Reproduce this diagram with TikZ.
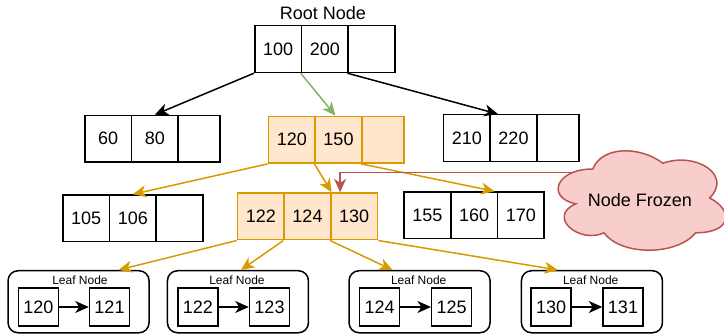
\documentclass[tikz,border=0pt]{standalone}
\usepackage{fontspec}
\setmainfont{Liberation Sans}
\usetikzlibrary{arrows.meta}
\definecolor{orstroke}{HTML}{D79B00}
\definecolor{orfill}{HTML}{FFE6CC}
\definecolor{grstroke}{HTML}{82B366}
\definecolor{rdstroke}{HTML}{B85450}
\definecolor{rdfill}{HTML}{F8CECC}
\tikzset{
  big/.style={font=\fontsize{18}{20}\selectfont},
  cell/.style={draw, fill=white, line width=1.5pt, minimum width=46.7pt,
    minimum height=46.7pt, inner sep=0pt, anchor=north west, big},
  narrow/.style={minimum width=42pt},
  hot/.style={draw=orstroke, fill=orfill},
  tip/.style={-{Stealth[length=13.5pt,width=12pt,inset=4pt]}},
  blk/.style={tip, line width=1.5pt, black},
  grn/.style={tip, line width=1.5pt, grstroke},
  org/.style={tip, line width=1.5pt, orstroke},
  redarr/.style={tip, line width=1.5pt, rdstroke},
  leafbox/.style={draw, line width=1.5pt, rounded corners=10pt, anchor=north west,
    minimum width=141pt, minimum height=62pt, inner sep=0pt},
  leaflabel/.style={font=\fontsize{12}{14}\selectfont, inner sep=0pt},
  kbox/.style={draw, fill=white, line width=1.5pt, minimum width=40pt,
    minimum height=38pt, inner sep=0pt, big},
}
\begin{document}
\begin{tikzpicture}[x=1pt, y=-1pt]
\useasboundingbox (0,0) rectangle (724,334);

% root
\node[big] (rootlbl) at (323,13) {Root Node};
\node[cell] (r1) at (254,25) {100};
\node[cell] (r2) at (300.7,25) {200};
\node[cell] (r3) at (347.4,25) {};

% second level
\node[cell] (a1) at (84,114.7) {60};
\node[cell] (a2) at (130.7,114.7) {80};
\node[cell, narrow] (a3) at (177.4,114.7) {};

\node[cell, hot] (m1) at (267.7,115.7) {120};
\node[cell, hot] (m2) at (314.4,115.7) {150};
\node[cell, hot, narrow] (m3) at (361.1,115.7) {};

\node[cell] (b1) at (442.7,114) {210};
\node[cell] (b2) at (489.4,114) {220};
\node[cell, narrow] (b3) at (536.1,114) {};

% third level
\node[cell] (c1) at (62,194.3) {105};
\node[cell] (c2) at (108.7,194.3) {106};
\node[cell] (c3) at (155.4,194.3) {};

\node[cell, hot] (d1) at (236.7,192.3) {122};
\node[cell, hot] (d2) at (283.4,192.3) {124};
\node[cell, hot] (d3) at (330.1,192.3) {130};

\node[cell] (e1) at (403.3,191.3) {155};
\node[cell] (e2) at (450,191.3) {160};
\node[cell] (e3) at (496.7,191.3) {170};

% leaf nodes
\node[leafbox] (l1) at (7.3,270) {};
\node[leafbox] (l2) at (166.7,270) {};
\node[leafbox] (l3) at (348.3,270) {};
\node[leafbox] (l4) at (520.7,270) {};

\node[leaflabel] (l1t) at (80,280) {Leaf Node};
\node[leaflabel] (l2t) at (237,280) {Leaf Node};
\node[leaflabel] (l3t) at (418.7,280) {Leaf Node};
\node[leaflabel] (l4t) at (590.7,280) {Leaf Node};

\node[kbox] (k1a) at (38.3,307) {120};
\node[kbox] (k1b) at (109.5,307) {121};
\node[kbox] (k2a) at (197.8,307) {122};
\node[kbox] (k2b) at (269.5,307) {123};
\node[kbox] (k3a) at (379.7,307) {124};
\node[kbox] (k3b) at (451.7,307) {125};
\node[kbox] (k4a) at (551.2,307) {130};
\node[kbox] (k4b) at (623,307) {131};

\draw[blk] (k1a) -- (k1b);
\draw[blk] (k2a) -- (k2b);
\draw[blk] (k3a) -- (k3b);
\draw[blk] (k4a) -- (k4b);

% tree edges
\draw[blk] (r1.south west) -- (a2.north);
\draw[blk] (r3.south west) -- ([xshift=7pt]b1.north east);
\draw[grn] (r2.south west) -- ([xshift=-3pt]m2.north);

\draw[org] (m1.south west) -- (c2.north);
\draw[org] (m2.south west) -- (d2.north east);
\draw[org] (m3.south west) -- ([xshift=-2pt]e3.north west);

\draw[org] (d1.south west) -- ([xshift=40pt]l1.north);
\draw[org] (d2.south west) -- ([xshift=3pt]l2.north);
\draw[org] (d3.south west) -- ([xshift=-27pt]l3.north);
\draw[org] (d3.south east) -- ([xshift=-34pt]l4.north);

% frozen marker
\coordinate (fz) at (600,172.3);
\draw[redarr] (fz) -| ([xshift=10pt]d3.north west);

\draw[draw=rdstroke, fill=rdfill, line width=1.5pt]
  (592.75,169)
  .. controls (555.35,169) and (546,198) .. (575.92,203.8)
  .. controls (546,216.56) and (579.66,244.4) .. (603.97,232.8)
  .. controls (620.8,256) and (676.9,256) .. (695.6,232.8)
  .. controls (733,232.8) and (733,209.6) .. (709.6,198)
  .. controls (733,174.8) and (695.6,151.6) .. (662.9,163.2)
  .. controls (639.5,145.8) and (602.1,145.8) .. (592.75,169) -- cycle;
\node[big] (frozen) at (640,200) {Node Frozen};
\end{tikzpicture}
\end{document}
